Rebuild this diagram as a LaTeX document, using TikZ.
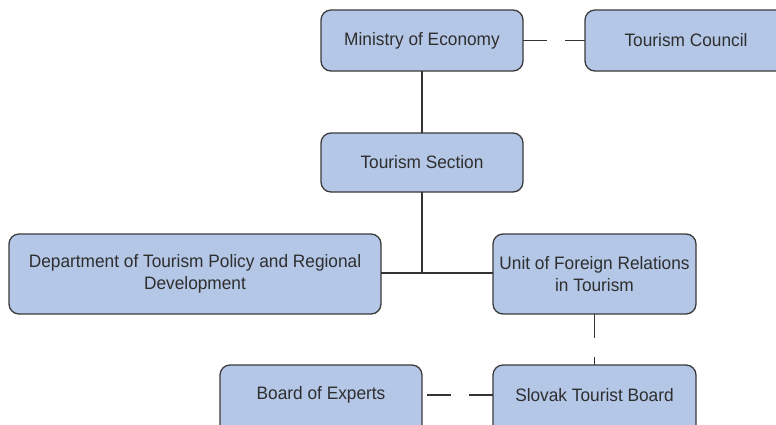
\documentclass[tikz,border=0pt]{standalone}
\usepackage{fontspec}
\setmainfont{Liberation Sans}[FakeStretch=0.96]
\definecolor{boxfill}{HTML}{B4C7E7}
\definecolor{boxline}{HTML}{3A3A3A}
\definecolor{txt}{HTML}{2E2E2E}
\tikzset{
  boxfont/.style={font=\fontsize{18}{22.5}\selectfont},
  orgbox/.style={draw=boxline, line width=1.3pt, fill=boxfill, rounded corners=10pt,
    inner sep=0pt, outer sep=0pt, text=txt, boxfont, align=center},
  lbl/.style={text=txt, boxfont, inner sep=0pt},
  link/.style={draw=boxline!90!black, line width=1.2pt},
}
\begin{document}
\begin{tikzpicture}[x=1pt,y=-1pt]
\useasboundingbox (0,0) rectangle (776,424);
\clip (0,0) rectangle (776,424);
\node[orgbox, minimum width=202pt, minimum height=61pt] (min) at (422,40.5) {Ministry of Economy};
\node[orgbox, minimum width=202pt, minimum height=61pt, anchor=west] (tc) at (585,40.5) {};
\node[lbl] (tctext) at (686,40.5) {Tourism Council};
\node[orgbox, minimum width=202pt, minimum height=59pt] (ts) at (422,162.5) {Tourism Section};
\node[orgbox, minimum width=372pt, minimum height=80pt] (dep) at (195,274) {Department of Tourism Policy and Regional\\Development};
\node[orgbox, minimum width=203pt, minimum height=80pt] (unit) at (594.5,274) {Unit of Foreign Relations\\in Tourism};
\node[orgbox, minimum width=202pt, minimum height=70pt, anchor=north west] (boe) at (220,365) {};
\node[lbl] (boetext) at (321,395) {Board of Experts};
\node[orgbox, minimum width=203pt, minimum height=70pt, anchor=north west] (stb) at (493,365) {};
\node[lbl] (stbtext) at (594.5,395) {Slovak Tourist Board};
\coordinate (junc) at (422,273);
% connectors
\draw[link] (min.south) -- (ts.north);
\draw[link] (ts.south) -- (junc);
\draw[link] (dep.east |- junc) -- (unit.west |- junc);
\draw[link, dash pattern=on 24pt off 18pt on 30pt] (min.east) -- (tc.west);
\draw[link, dash pattern=on 24pt off 19pt on 30pt] (unit.south) -- (stb.north -| unit.south);
\draw[link, dash pattern=on 0pt off 5pt on 24pt off 18pt on 40pt] (boe.east |- boetext) -- (stb.west |- stbtext);
\end{tikzpicture}
\end{document}
